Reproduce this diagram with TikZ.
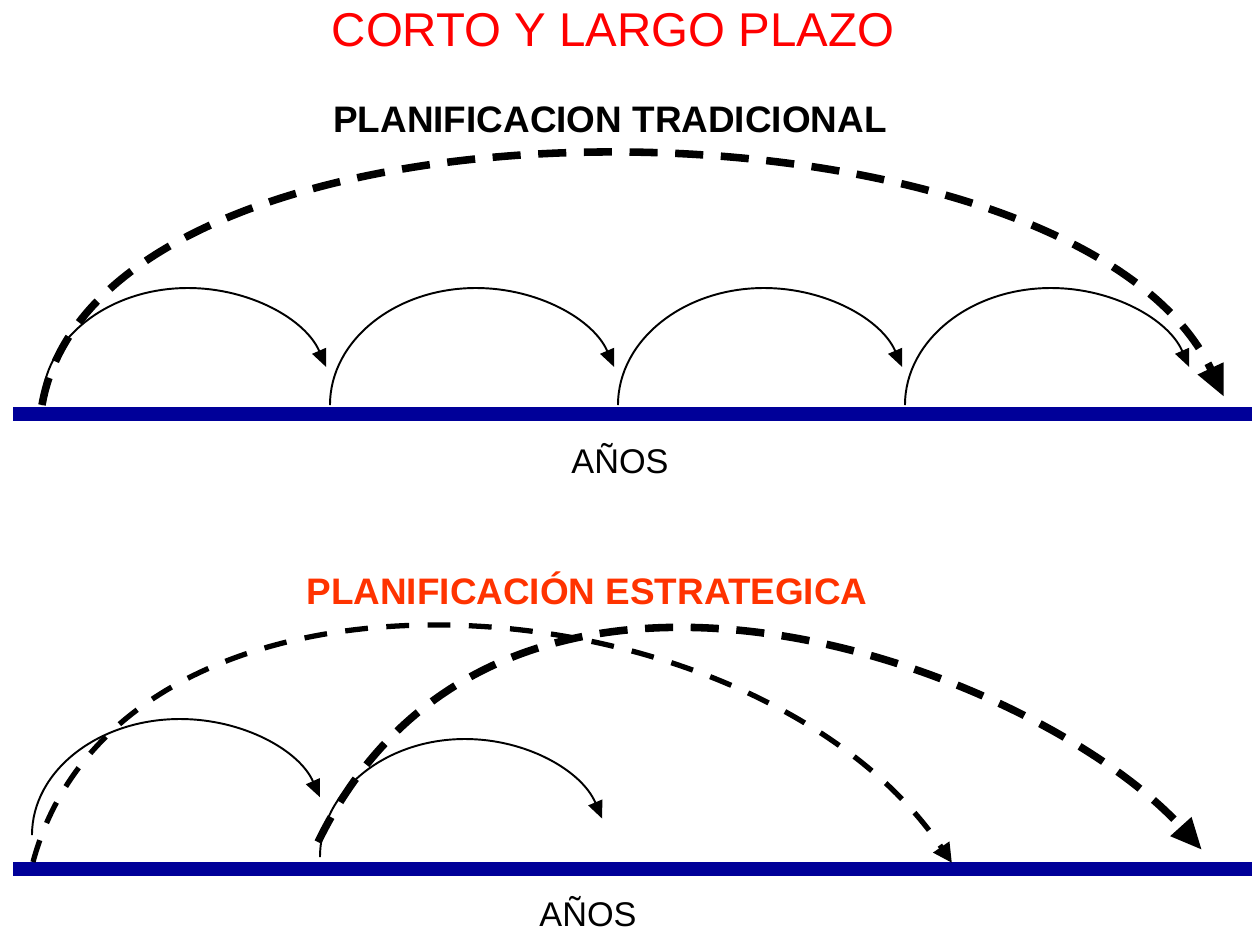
\documentclass[tikz,border=0pt]{standalone}
\usepackage{fontspec}
\setmainfont{Liberation Sans}
\usetikzlibrary{arrows.meta}

\definecolor{barblue}{HTML}{000099}
\definecolor{titlered}{HTML}{FF0000}
\definecolor{stratorange}{HTML}{FF3300}

\tikzset{
  timeline/.style={barblue, line width=8.5pt},
  hop/.style={black, line width=1.1pt, -{Triangle[length=10pt, width=8.5pt]}},
  longhop/.style={black, line width=4.3pt, dash pattern=on 16pt off 10pt, -{Triangle[length=18pt, width=15pt]}},
  midhop/.style={black, line width=3pt, dash pattern=on 13pt off 10.5pt, -{Triangle[length=11pt, width=10.5pt]}},
  bigtitle/.style={font=\fontsize{27}{32}\selectfont},
  subtitle/.style={font=\bfseries\fontsize{21}{25}\selectfont},
  years/.style={font=\fontsize{19.5}{23}\selectfont, anchor=base}
}

\begin{document}
\begin{tikzpicture}[x=0.02cm, y=0.02cm]
  \useasboundingbox (0,0) rectangle (1252,-931);

  % Titles
  \node[bigtitle, text=titlered] (title) at (613,-30) {CORTO Y LARGO PLAZO};
  \node[subtitle] (tradlabel) at (610,-120) {PLANIFICACION TRADICIONAL};

  % Traditional planning
  \coordinate (ta) at (13,-414);
  \coordinate (tb) at (1252,-414);
  \draw[timeline] (ta) -- (tb);
  \node[years] (tyears) at (620,-473) {AÑOS};
  \foreach \s [count=\i] in {42,330,618,905} {
    \coordinate (t\i) at (\s,-405);
    \draw[hop] (t\i) arc[start angle=180, end angle=19, x radius=146, y radius=117];
  }
  \coordinate (tend) at (1224,-397);
  \draw[longhop] (t1) .. controls +(59,337) and +(-150,318) .. (tend);

  % Strategic planning
  \node[subtitle, text=stratorange] (stratlabel) at (587,-588) {PLANIFICACIÓN ESTRATEGICA};
  \coordinate (sa) at (13,-869);
  \coordinate (sb) at (1252,-869);
  \draw[timeline] (sa) -- (sb);
  \node[years] (syears) at (588,-926) {AÑOS};

  \coordinate (s1) at (32,-835);
  \coordinate (s2) at (320,-857);
  \draw[hop] (s1) arc[start angle=180, end angle=19, x radius=148, y radius=116];
  \draw[hop] (s2) arc[start angle=180, end angle=19, x radius=145, y radius=118];

  \coordinate (m0) at (33,-862);
  \coordinate (m1) at (952,-863);
  \draw[midhop] (m0) .. controls +(91,338) and +(-196,290) .. (m1);

  \coordinate (l0) at (318,-842);
  \coordinate (l1) at (1202,-850);
  \draw[longhop] (l0) .. controls +(184,378) and +(-164,182) .. (l1);
\end{tikzpicture}
\end{document}
